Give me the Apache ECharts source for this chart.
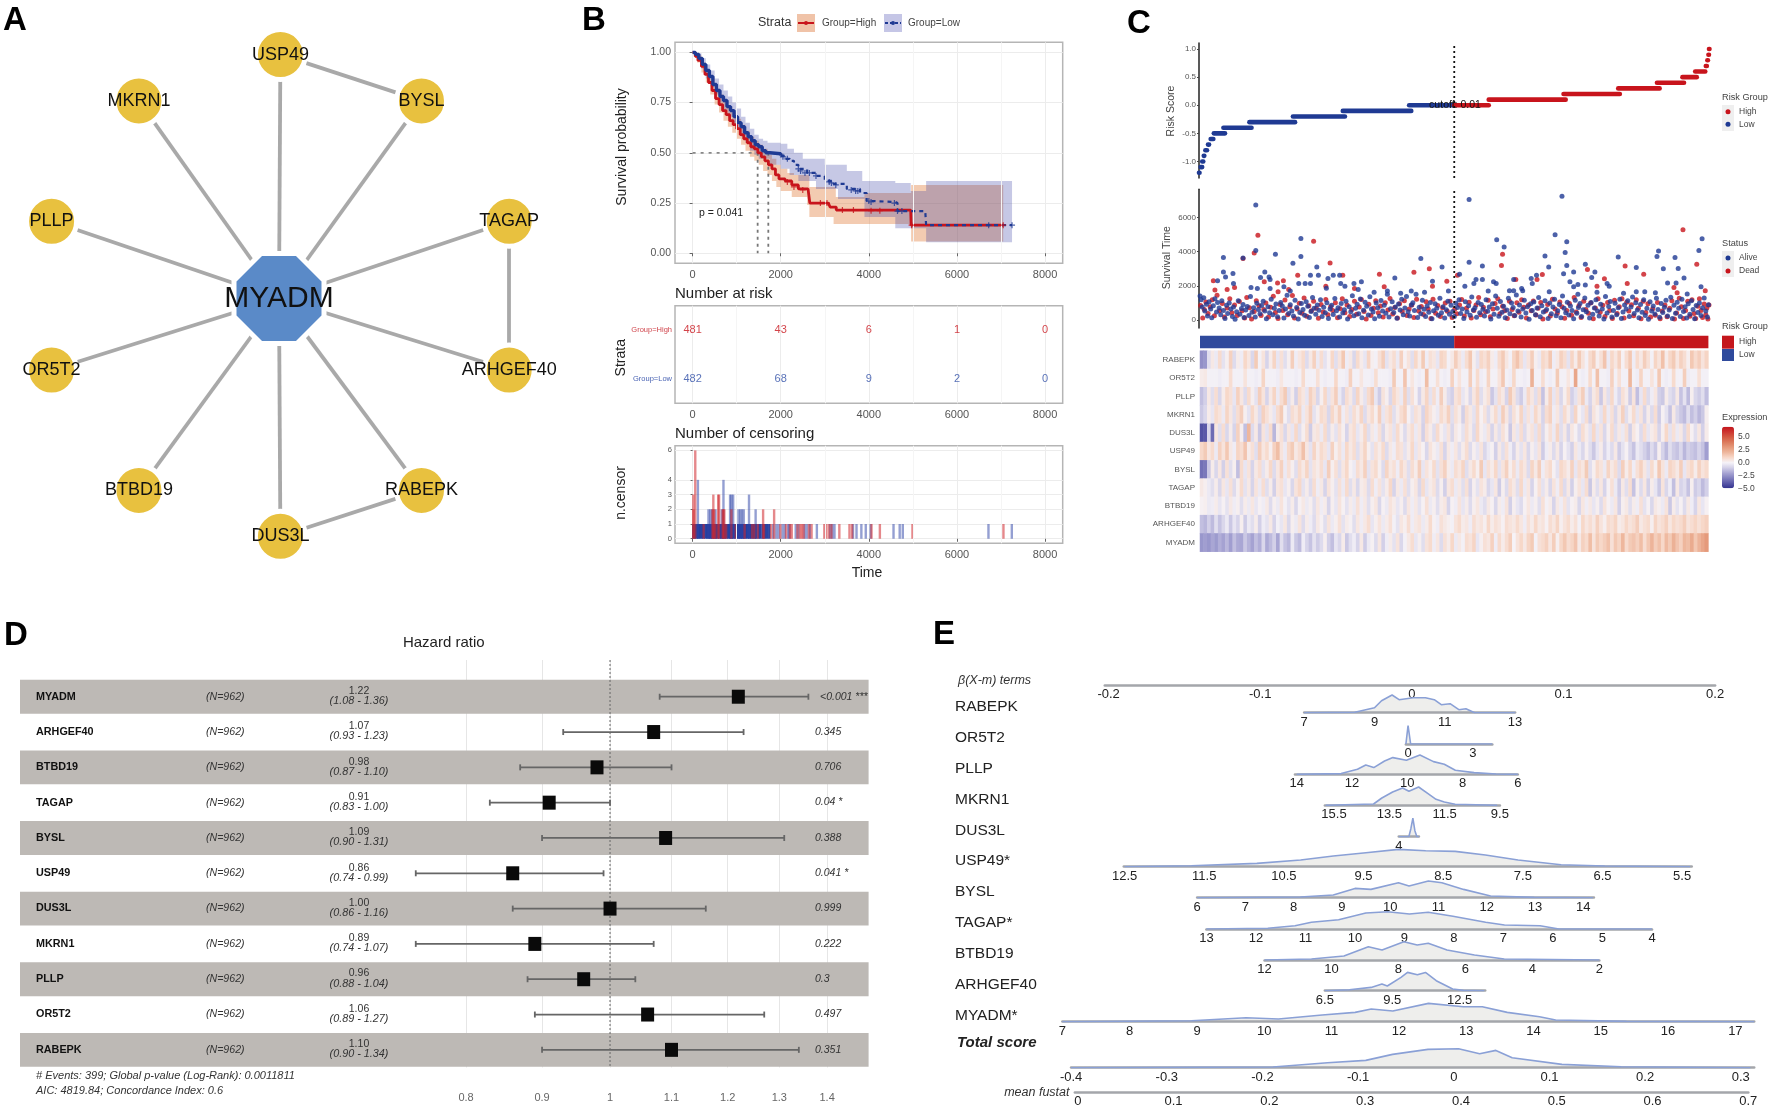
<!DOCTYPE html>
<html>
<head>
<meta charset="utf-8">
<style>html,body{margin:0;background:#fff}#chart{width:1772px;height:1108px}</style>
<script src="https://cdn.jsdelivr.net/npm/echarts@6/dist/echarts.min.js"></script>
</head>
<body>
<div id="chart"></div>
<script>
// ── A: interaction network ────────────────────────────────────────────────────
const nodeNames = ['MYADM','USP49','BYSL','MKRN1','PLLP','TAGAP','OR5T2','ARHGEF40','BTBD19','RABEPK','DUS3L'];
const nodeX = [279,280.4,421.5,138.9,51.6,509.2,51.6,509.2,138.9,421.5,280.4];
const nodeY = [298.5,54.6,100.9,100.9,221.3,221.3,370,370,490.4,490.4,536.3];
const edgeFrom = ['MYADM','MYADM','MYADM','MYADM','MYADM','MYADM','MYADM','MYADM','MYADM','MYADM','USP49','TAGAP','DUS3L'];
const edgeTo = ['USP49','BYSL','MKRN1','PLLP','TAGAP','OR5T2','ARHGEF40','BTBD19','RABEPK','DUS3L','BYSL','ARHGEF40','RABEPK'];

// ── B: survival curves ────────────────────────────────────────────────────────
const survHigh = [[0,1],[60,.98],[120,.96],[200,.93],[280,.89],[360,.85],[440,.81],[520,.77],[600,.74],[680,.71],[760,.69],[840,.66],[920,.64],[1000,.62],[1080,.59],[1160,.57],[1240,.55],[1320,.53],[1400,.52],[1480,.5],[1560,.48],[1640,.46],[1720,.44],[1800,.42],[1880,.39],[1960,.37],[2100,.36],[2250,.34],[2400,.32],[2620,.315],[2660,.25],[3080,.25],[3120,.23],[3260,.215],[4950,.212],[4960,.14],[7050,.14]];
const survLowEarly = [[0,1],[60,.99],[140,.97],[220,.94],[300,.91],[380,.88],[460,.84],[540,.81],[620,.78],[700,.76],[780,.73],[860,.71],[940,.68],[1020,.65],[1100,.63],[1180,.6],[1260,.58],[1340,.56],[1420,.54],[1500,.53],[1580,.51],[1660,.5],[1750,.495],[2000,.485]];
const survLowLate = [[2000,.485],[2100,.47],[2200,.46],[2300,.44],[2400,.42],[2600,.4],[2800,.385],[3000,.36],[3200,.345],[3500,.32],[3800,.3],[3950,.26],[4100,.255],[4600,.25],[4650,.21],[5280,.21],[5300,.14],[7250,.14]];
const bandHighUpper = [[0,1],[100,.985],[200,.95],[300,.91],[400,.87],[500,.82],[600,.79],[700,.76],[800,.73],[900,.7],[1000,.67],[1100,.64],[1200,.61],[1300,.58],[1400,.56],[1500,.54],[1600,.52],[1700,.49],[1800,.47],[1900,.44],[2000,.42],[2150,.4],[2300,.39],[2650,.33],[3250,.28],[3900,.3],[4960,.34],[7050,.34]];
const bandHighLower = [[0,1],[100,.95],[200,.9],[300,.85],[400,.79],[500,.74],[600,.7],[700,.66],[800,.63],[900,.6],[1000,.57],[1100,.54],[1200,.51],[1300,.48],[1400,.46],[1500,.44],[1600,.41],[1700,.39],[1800,.36],[1900,.33],[2000,.31],[2250,.28],[2600,.24],[2650,.18],[3150,.18],[3200,.145],[4950,.145],[4960,.058],[7050,.058]];
const bandLowUpper = [[0,1],[100,.995],[200,.97],[300,.94],[400,.91],[500,.87],[600,.84],[700,.81],[800,.78],[900,.75],[1000,.72],[1100,.68],[1200,.65],[1300,.62],[1400,.59],[1500,.57],[1600,.56],[1700,.55],[2000,.545],[2150,.52],[2300,.5],[2500,.47],[3000,.44],[3500,.41],[3850,.36],[4600,.35],[4950,.31],[5300,.36],[7250,.36]];
const bandLowLower = [[0,1],[100,.96],[200,.92],[300,.87],[400,.83],[500,.79],[600,.75],[700,.71],[800,.68],[900,.65],[1000,.62],[1100,.58],[1200,.55],[1300,.51],[1400,.49],[1500,.47],[1750,.44],[2000,.42],[2200,.39],[2400,.36],[2800,.32],[3300,.27],[3900,.18],[4600,.125],[5300,.055],[7250,.055]];
const censorMarksHigh = [[2150,.355],[2300,.33],[2500,.315],[2900,.25],[3050,.25],[3400,.215],[3650,.215],[4050,.212],[4250,.212],[4970,.14],[7050,.14]];
const censorMarksLow = [[2050,.48],[2150,.47],[2400,.42],[2450,.41],[2550,.4],[2650,.4],[2800,.385],[3100,.355],[3150,.35],[3250,.34],[3600,.315],[3700,.31],[3750,.31],[4000,.26],[4050,.255],[4580,.25],[4650,.21],[4750,.21],[6720,.14],[7250,.14]];
const medianLine = [[0,.5],[1718,.5]];
const medianHigh = [[1476,.5],[1476,0]];
const medianLow = [[1718,.5],[1718,0]];
const timeTicks = [0,2000,4000,6000,8000];
const timeMinor = [1000,3000,5000,7000];
const survTicks = [0,.25,.5,.75,1];
const riskHigh = [481,43,6,1,0];
const riskLow = [482,68,9,2,0];
const censorTicks = [0,1,2,3,4,6];
const censorCountHigh = [[15,3],[60,6],[20,2],[450,2],[470,3],[490,2],[580,3],[600,3],[680,2],[700,2],[720,2],[880,2],[1600,2],[1850,2],[250,1],[520,1],[760,1],[980,1],[1180,1],[1350,1],[1400,1],[1480,1],[1620,1],[1780,1],[1990,1],[2120,1],[2210,1],[2250,1],[2380,1],[2440,1],[2480,1],[2520,1],[2640,1],[2700,1],[2990,1],[3030,1],[3090,1],[3150,1],[3330,1],[3560,1],[3620,1],[4060,1],[4250,1],[4990,1],[7055,1]];
const censorCountLow = [[120,4],[360,2],[400,2],[440,2],[520,2],[660,2],[700,4],[850,3],[880,3],[920,3],[1040,2],[1080,2],[1120,2],[1160,2],[1280,3],[1430,2],[1830,1],[1900,1],[1950,1],[2040,1],[2090,1],[2170,1],[2200,1],[2340,1],[2400,1],[2540,1],[2590,1],[2660,1],[2820,1],[3120,1],[3170,1],[3220,1],[3640,1],[3720,1],[3830,1],[3930,1],[4040,1],[4560,1],[4700,1],[4770,1],[6715,1],[7245,1]];
const censorSingleLow = [[15,1],[50,1],[90,1],[130,1],[170,1],[210,1],[250,1],[290,1],[330,1],[370,1],[410,1],[450,1],[490,1],[530,1],[570,1],[610,1],[650,1],[690,1],[730,1],[770,1],[810,1],[850,1],[890,1],[930,1],[970,1],[1010,1],[1050,1],[1090,1],[1130,1],[1170,1],[1210,1],[1250,1],[1290,1],[1330,1],[1370,1],[1410,1],[1450,1],[1500,1],[1540,1],[1590,1],[1640,1],[1690,1],[1740,1]];

// ── C: risk score, survival time, expression ─────────────────────────────────
// each run of patients shares one rounded risk score: [first rank, last rank, score]
const riskRunsLow = [[0,1,-1.2],[3,6,-1.1],[6,8,-1],[9,10,-.9],[12,15,-.8],[17,19,-.7],[22,27,-.6],[28,49,-.5],[46,99,-.4],[95,181,-.3],[177,275,-.2],[271,400,-.1],[396,481,0]];
const riskRunsHigh = [[481,546,0],[546,691,.1],[687,793,.2],[790,868,.3],[863,914,.4],[911,938,.5],[935,954,.6],[955,957,.7],[958,959,.8],[960,961,.9],[961,962,1]];
const riskTicks = [-1,-.5,0,.5,1];
const survTimeTicks = [0,2000,4000,6000];
const aliveSparse = [[107,6730],[509,7040],[684,7240],[107,4070],[46,3650],[83,3630],[144,3840],[192,4770],[192,3720],[177,3320],[46,2810],[64,2720],[35,2290],[50,2520],[65,2130],[116,2480],[124,2810],[132,2520],[134,2370],[110,1840],[134,1840],[222,3100],[225,2620],[210,2620],[243,2430],[253,2620],[265,2620],[188,2130],[200,2130],[210,2130],[267,2130],[275,1980],[306,2230],[292,2130],[418,3590],[458,3100],[369,2460],[440,2270],[491,2680],[509,3380],[534,3160],[561,4690],[575,4270],[522,2370],[534,2370],[518,2130],[501,1980],[555,2230],[560,2130],[652,3740],[659,3100],[671,4990],[693,4580],[690,3940],[693,3180],[687,2700],[706,2810],[699,2230],[728,3260],[746,2810],[740,2480],[728,2040],[714,2080],[706,1940],[714,1510],[790,3690],[824,3070],[769,2130],[773,1980],[863,3720],[866,4040],[875,2990],[897,3650],[903,3010],[883,2170],[899,2170],[914,2460],[942,4070],[948,4750],[946,1940],[824,1650],[840,1650],[636,2620],[626,2430],[593,2370],[628,2130],[608,1840],[585,1710],[593,1710],[98,1900],[160,1950],[172,1700],[240,1850],[300,1780],[330,1620],[355,1700],[380,1560],[400,1690],[425,1620],[470,1700],[545,1700],[610,1710],[660,1650],[750,1620],[800,1560],[860,1600],[920,1520]];
const deadSparse = [[111,4950],[104,3920],[216,4600],[83,3590],[247,3340],[186,2620],[271,2620],[340,2680],[405,2790],[434,2990],[467,2270],[27,2290],[159,2290],[148,2170],[123,2230],[572,3840],[570,3180],[597,2370],[732,2950],[764,2410],[803,3160],[807,2130],[838,2680],[912,5280],[938,3260],[647,2660],[637,2370],[750,1980],[895,1900],[901,1590],[954,1710],[67,1900],[53,1790],[30,1750],[440,1980],[349,1940],[487,2620],[239,1980],[293,1840],[149,1650],[169,1790]];
const aliveDense = [[2,1400],[4,1180],[6,760],[9,1300],[11,520],[14,920],[16,240],[19,1060],[22,640],[24,130],[27,830],[30,1240],[33,470],[35,1020],[38,700],[41,310],[43,1130],[46,560],[49,90],[52,860],[54,380],[57,1000],[60,640],[63,200],[65,760],[68,50],[71,480],[74,1120],[77,330],[80,670],[83,910],[85,140],[88,590],[91,790],[94,260],[97,1380],[100,450],[103,720],[106,170],[109,980],[112,610],[115,360],[118,850],[121,1090],[124,530],[127,70],[130,770],[133,420],[136,1210],[139,300],[142,690],[145,940],[148,190],[151,560],[154,1030],[157,820],[160,110],[163,640],[166,1450],[169,380],[172,890],[175,520],[178,240],[181,1150],[184,730],[187,60],[190,440],[193,960],[196,620],[199,280],[202,1070],[205,800],[208,150],[211,500],[214,1320],[217,680],[220,340],[223,880],[226,570],[229,1180],[232,210],[235,750],[238,430],[241,1010],[244,90],[247,640],[250,860],[253,320],[256,1260],[259,540],[262,710],[265,180],[268,960],[271,410],[274,600],[277,1100],[280,60],[283,780],[286,480],[289,1420],[292,250],[295,690],[298,920],[301,360],[304,1230],[307,130],[310,570],[313,1040],[316,810],[319,290],[322,1360],[325,640],[328,470],[331,80],[334,990],[337,720],[340,220],[343,1140],[346,530],[349,860],[352,390],[355,1500],[358,170],[361,660],[364,1070],[367,440],[370,760],[373,100],[376,930],[379,590],[382,1220],[385,310],[388,700],[391,1370],[394,480],[397,240],[400,880],[403,1010],[406,560],[409,1510],[412,140],[415,740],[418,370],[421,1160],[424,630],[427,200],[430,820],[433,450],[436,1030],[439,70],[442,540],[445,950],[448,690],[451,280],[454,1270],[457,420],[460,780],[463,120],[466,600],[469,1090],[472,340],[475,860],[478,500],[481,210],[484,980],[487,730],[490,1180],[493,380],[496,650],[499,90],[502,1060],[505,470],[508,840],[511,280],[514,1340],[517,580],[520,720],[523,160],[526,1020],[529,420],[532,900],[535,630],[538,240],[541,1190],[544,510],[547,760],[550,60],[553,950],[556,340],[559,1400],[562,680],[565,220],[568,1080],[571,460],[574,810],[577,130],[580,590],[583,1270],[586,370],[589,990],[592,730],[595,270],[598,1460],[601,520],[604,880],[607,170],[610,640],[613,1150],[616,410],[619,770],[622,50],[625,950],[628,560],[631,1050],[634,300],[637,700],[640,1310],[643,190],[646,840],[649,470],[652,1120],[655,620],[658,90],[661,1000],[664,360],[667,760],[670,1220],[673,250],[676,540],[679,900],[682,130],[685,1410],[688,680],[691,430],[694,1040],[697,290],[700,820],[703,560],[706,70],[709,1160],[712,390],[715,730],[718,960],[721,210],[724,600],[727,1280],[730,480],[733,860],[736,110],[739,1030],[742,330],[745,700],[748,1190],[751,520],[754,240],[757,920],[760,640],[763,60],[766,1370],[769,410],[772,790],[775,1080],[778,170],[781,560],[784,980],[787,300],[790,720],[793,1220],[796,90],[799,470],[802,880],[805,640],[808,1120],[811,210],[814,760],[817,1340],[820,380],[823,1010],[826,580],[829,130],[832,900],[835,450],[838,1180],[841,270],[844,690],[847,50],[850,1060],[853,530],[856,820],[859,350],[862,1270],[865,620],[868,160],[871,960],[874,440],[877,740],[880,1150],[883,240],[886,580],[889,1330],[892,90],[895,860],[898,390],[901,1040],[904,680],[907,210],[910,1210],[913,500],[916,780],[919,120],[922,950],[925,330],[928,1120],[931,620],[934,70],[937,850],[940,440],[943,1000],[946,260],[949,720],[952,1280],[955,530],[958,170],[960,890]];
const deadDense = [[3,850],[7,110],[10,620],[13,1050],[17,380],[21,780],[25,1180],[29,250],[34,1440],[39,540],[44,960],[48,180],[53,700],[58,1240],[62,420],[67,880],[72,260],[76,1080],[81,540],[86,120],[90,1310],[95,720],[99,60],[104,490],[108,1120],[113,830],[117,270],[122,620],[126,1000],[131,170],[135,750],[140,1390],[144,440],[149,90],[153,900],[158,560],[162,1170],[167,310],[171,770],[176,1430],[180,120],[185,640],[189,980],[194,400],[198,1280],[203,220],[207,840],[212,540],[216,1090],[221,680],[225,100],[230,910],[234,470],[239,1200],[243,300],[248,780],[252,560],[257,1010],[261,130],[266,660],[270,1240],[275,420],[279,880],[284,210],[288,620],[293,1090],[297,340],[302,760],[306,1200],[311,500],[315,60],[320,920],[324,270],[329,680],[333,1130],[338,430],[342,820],[347,170],[351,1010],[356,590],[360,1260],[365,350],[369,730],[374,120],[378,950],[383,500],[387,1120],[392,260],[396,640],[401,880],[405,140],[410,1210],[414,530],[419,790],[423,320],[428,1060],[432,640],[437,90],[441,1220],[446,400],[450,850],[455,200],[459,720],[464,1000],[468,510],[473,1100],[477,150],[482,640],[486,370],[491,870],[495,1200],[500,240],[504,680],[509,1040],[513,110],[518,560],[522,880],[527,1320],[531,300],[536,740],[540,480],[545,1150],[549,190],[554,640],[558,970],[563,1240],[567,360],[572,800],[576,540],[581,90],[585,1090],[590,620],[594,250],[599,1010],[603,460],[608,1180],[612,740],[617,120],[621,880],[626,540],[630,1110],[635,290],[639,680],[644,1030],[648,60],[653,520],[657,900],[662,230],[666,1210],[671,640],[675,390],[680,1050],[684,780],[689,100],[693,560],[698,960],[702,280],[707,1310],[711,470],[716,830],[720,150],[725,1100],[729,620],[734,390],[738,990],[743,80],[747,700],[752,1240],[756,460],[761,860],[765,200],[770,1020],[774,560],[779,90],[783,1160],[788,380],[792,770],[797,1240],[801,120],[806,1040],[810,520],[815,890],[819,250],[824,1190],[828,690],[833,80],[837,1100],[842,440],[846,950],[851,170],[855,660],[860,280],[864,1030],[869,80],[873,520],[878,880],[882,190],[887,680],[891,1120],[896,60],[900,410],[905,1270],[909,780],[913,90],[917,560],[921,1100],[925,220],[929,1180],[933,380],[936,90],[940,810],[943,1240],[946,550],[949,140],[952,930],[955,300],[957,700],[959,60],[961,880]];

// expression in tenths, 140 columns ordered by risk rank
const heatGenes = ['RABEPK','OR5T2','PLLP','MKRN1','DUS3L','USP49','BYSL','TAGAP','BTBD19','ARHGEF40','MYADM'];
const heatRabepk = [-26,-24,-6,4,-3,9,-5,2,12,-7,
  3,-2,10,5,-8,14,-1,6,-9,3,
  11,-4,7,-6,2,13,-2,5,9,-7,
  4,12,-3,8,-5,1,10,-6,6,15,
  -2,4,-8,9,3,-4,11,2,-1,7,
  13,-5,4,8,-3,12,1,6,-6,10,
  3,14,-2,7,5,-4,11,9,-1,4,
  13,6,-3,8,15,2,-5,10,7,12,
  3,-2,9,14,5,-1,11,16,8,-4,
  6,13,2,-3,10,7,15,-2,4,12,
  8,-5,11,3,14,6,-1,9,13,2,
  7,16,-3,10,5,12,1,8,15,-2,
  9,4,13,7,-1,11,6,17,3,10,
  14,5,12,8,2,15,9,13,6,11];
const heatOr5t2 = [3,4,-1,-1,-1,-2,-1,-1,8,-1,
  -1,-1,6,-1,-1,-2,-1,11,-1,-1,
  -1,-2,5,-1,-1,-1,-2,-1,9,-1,
  -1,-1,7,-1,-2,-1,-1,10,-1,-1,
  -2,12,-1,-1,5,-1,-1,-2,8,-1,
  -1,-1,-2,14,-1,-1,16,-1,5,-1,
  -2,-1,18,-1,-1,7,-1,-2,-1,12,
  -1,6,-1,-1,13,-1,9,-2,-1,11,
  -1,-1,6,15,-1,-2,10,-1,-1,-2,
  -1,22,-1,-1,8,-1,-2,-1,14,-1,
  -1,5,-1,26,-1,-2,-1,9,-1,17,
  -1,-1,-2,12,-1,7,-1,-1,20,-1,
  -2,11,-1,-1,6,-1,15,-1,-2,-1,
  9,-1,-1,13,-2,-1,-1,7,-1,-1];
const heatPllp = [-14,-10,4,-6,8,-8,3,10,7,-4,
  12,5,-7,9,2,-5,13,6,-9,4,
  11,-3,8,14,-6,3,-10,9,5,-4,
  12,7,-8,2,10,-5,6,13,-3,-9,
  8,4,-7,11,3,-5,9,14,-4,-11,
  6,2,-8,10,5,-3,12,-6,7,1,
  -9,4,11,-5,8,-2,13,3,-7,-10,
  6,9,-4,2,-8,5,11,-6,3,7,
  -12,-5,8,4,-9,14,6,-7,-11,-3,
  10,5,-6,8,-13,3,12,-4,7,-8,
  2,9,-10,-5,6,13,-3,-9,4,8,
  -12,5,-6,10,-2,-8,7,3,-11,6,
  -14,-4,9,-7,-2,5,-10,-12,3,-6,
  -9,4,-13,-5,-15,2,-8,-11,-6,-14];
const heatMkrn1 = [-12,-8,3,-4,9,6,-3,11,5,-6,
  8,13,2,-5,10,4,-7,12,7,3,
  -4,9,14,1,-6,8,5,11,-3,6,
  13,-5,2,9,7,-8,10,4,12,-2,
  6,-5,8,3,11,-7,5,9,2,13,
  -4,6,10,-6,3,8,12,1,-5,7,
  4,-9,11,6,2,-3,9,5,12,-6,
  7,3,-10,8,4,-5,10,1,6,-7,
  3,9,-4,13,5,-8,7,2,11,-5,
  6,-3,10,4,-9,8,12,-2,5,-6,
  9,3,-7,11,1,-4,8,-10,6,2,
  -5,10,-3,7,-8,4,12,-6,2,9,
  -4,6,-9,3,-7,8,-11,1,-5,-13,
  4,-8,-12,-15,-6,-14,-10,-16,-12,2];
const heatDus3l = [-42,-40,-8,-35,5,-6,8,-8,3,-9,
  12,2,-14,20,-7,4,-12,6,-5,9,
  -16,3,7,-8,5,-4,10,-6,2,8,
  -11,4,6,-3,9,-7,3,-5,7,2,
  -9,5,8,-4,3,10,-6,4,-2,7,
  -8,3,6,-5,9,2,-7,4,8,-3,
  5,-10,7,3,-6,9,2,-4,6,-8,
  4,1,-5,8,3,-7,10,2,-3,6,
  -9,4,-6,7,2,-12,5,-4,8,-7,
  3,6,-5,9,-8,2,7,-3,11,-6,
  4,-9,5,1,-7,8,3,-5,10,-4,
  6,-8,2,9,-6,4,-3,7,-10,5,
  1,-7,8,-4,3,6,-9,2,10,-5,
  7,-3,4,-8,9,1,-6,5,-10,3];
const heatUsp49 = [10,14,5,9,-3,12,6,15,4,-2,
  11,8,16,3,7,-6,13,5,9,2,
  12,18,6,-3,10,14,4,8,17,5,
  -5,11,3,9,6,-4,12,2,7,-3,
  10,4,8,-6,5,11,2,-5,7,3,
  9,-7,4,-2,8,6,-5,3,10,-4,
  5,1,-8,6,2,-3,7,-9,4,-2,
  5,-6,3,8,-7,2,-4,6,-8,-3,
  1,-10,4,-6,7,-2,-9,3,-5,5,
  -8,2,-4,6,-11,-2,3,-7,4,-9,
  1,-5,-10,5,-3,-8,2,-6,-12,-4,
  3,-9,-2,-7,4,-11,-5,1,-8,-13,
  -3,-6,-10,-14,-7,-12,2,-9,-15,-6,
  -11,-13,-8,-16,-10,-12,-14,-9,-13,-22];
const heatBysl = [-34,-32,-12,3,-8,5,-10,7,-6,2,
  -14,9,-4,6,-9,4,8,-5,3,10,
  -7,5,12,-3,7,2,-6,9,4,11,
  -5,6,3,8,-4,13,2,7,-6,5,
  10,1,-3,8,4,12,-5,6,9,2,
  -7,11,4,7,-2,10,5,-6,8,3,
  13,-4,6,2,9,-5,7,12,3,-3,
  8,5,11,-6,4,9,2,14,-4,7,
  3,10,-5,6,12,2,8,-3,9,5,
  -7,11,4,13,-2,6,9,1,-5,10,
  7,3,12,-4,8,5,14,-6,2,9,
  6,-3,11,4,8,-7,13,3,10,-2,
  7,12,5,-5,9,2,15,6,-3,11,
  8,4,13,-4,7,10,3,12,6,9];
const heatTagap = [4,2,-3,-6,3,-8,5,-4,7,-7,
  2,9,-5,4,-9,6,-3,8,-6,3,
  -10,5,7,-4,2,-8,6,10,-5,3,
  -7,8,-2,4,-9,6,2,-5,7,-3,
  9,-6,4,-8,3,5,-7,8,-2,6,
  -5,3,10,-9,4,-3,7,-6,2,5,
  -8,9,-4,3,6,-7,2,-10,5,8,
  -3,4,-6,7,-9,2,-5,6,3,-8,
  -4,5,-11,2,-7,8,4,-6,10,-3,
  5,-9,1,7,-5,3,-8,6,-2,9,
  -7,4,-10,2,6,-4,8,-12,3,-6,
  5,-9,1,7,-3,-11,4,-6,8,-13,
  2,-7,5,-10,3,-4,-12,6,-8,-2,
  -14,4,-9,-6,-13,2,-11,-8,-15,-10];
const heatBtbd19 = [1,2,-3,-2,3,-4,1,-5,4,-2,
  2,-6,3,-3,5,-4,1,-2,4,-7,
  2,-3,6,-1,-5,3,-8,1,4,-3,
  2,-6,5,-2,3,-9,2,-4,6,1,
  -5,3,-3,7,-2,4,-6,2,5,-8,
  1,-3,6,3,-4,2,-7,5,-2,4,
  -5,1,7,-3,2,-6,3,5,-9,1,
  -2,6,-4,3,-7,2,5,-3,-6,4,
  1,-8,3,-2,6,-10,2,-4,-7,1,
  5,-3,2,-6,7,-1,3,-9,4,-2,
  6,-5,1,3,-8,5,-2,4,-4,2,
  -7,6,1,-3,5,-10,2,4,-6,3,
  -2,7,-5,1,-8,4,2,-3,6,-12,
  3,-5,1,-7,4,-2,-9,5,-4,1];
const heatArhgef40 = [-14,-16,-10,-15,-6,-13,-8,-3,-12,-4,
  -9,2,-11,-3,-6,3,-10,-2,-5,4,
  -9,-1,-4,5,-8,2,-3,6,-7,3,
  -2,-7,4,1,-6,6,-3,2,7,-5,
  3,1,-6,5,-2,4,8,-4,2,6,
  -3,3,7,-1,-5,5,2,8,-2,4,
  6,-3,3,9,1,-2,7,4,2,-1,
  6,9,3,5,-2,8,4,6,2,10,
  3,7,5,1,8,6,4,9,5,-2,
  7,3,10,4,6,1,8,5,11,2,
  6,9,3,7,-1,10,5,8,4,12,
  6,2,9,7,11,3,5,10,6,8,
  13,4,7,9,2,11,6,8,12,5,
  10,7,9,13,6,8,11,7,10,12];
const heatMyadm = [-24,-22,-24,-20,-23,-18,-21,-16,-22,-14,
  -19,-20,-12,-17,-21,-14,-18,-8,-19,-15,
  -10,-20,-6,-13,-16,-3,-12,-15,-2,-9,
  -13,-5,-11,-7,2,-10,-14,-4,-8,3,
  -12,-6,-2,-9,4,-11,-3,1,-7,5,
  -10,-2,3,-5,6,-8,-1,4,8,-4,
  2,-6,6,9,-2,5,-7,7,3,10,
  -3,4,-1,8,6,11,-4,2,7,5,
  12,-2,9,3,8,13,0,6,10,4,
  11,14,-1,7,9,12,5,13,2,10,
  15,8,11,16,4,12,9,18,6,14,
  10,13,17,7,15,11,20,9,14,16,
  12,18,8,15,21,13,17,10,19,14,
  22,16,12,20,18,24,15,21,26,30];
const heatRows = [heatRabepk,heatOr5t2,heatPllp,heatMkrn1,heatDus3l,heatUsp49,heatBysl,heatTagap,heatBtbd19,heatArhgef40,heatMyadm];

// ── D: forest plot ────────────────────────────────────────────────────────────
const hrGenes = ['MYADM','ARHGEF40','BTBD19','TAGAP','BYSL','USP49','DUS3L','MKRN1','PLLP','OR5T2','RABEPK'];
const hrValues = [1.22,1.07,.98,.91,1.09,.86,1,.89,.96,1.06,1.1];
const hrLower = [1.08,.93,.87,.83,.9,.74,.86,.74,.88,.89,.9];
const hrUpper = [1.36,1.23,1.1,1,1.31,.99,1.16,1.07,1.04,1.27,1.34];
const hrPvalues = ['<0.001 ***','0.345','0.706','0.04 *','0.388','0.041 *','0.999','0.222','0.3','0.497','0.351'];
const hrTicks = [.8,.9,1,1.1,1.2,1.3,1.4];

// ── E: nomogram densities, [axis value, height] ──────────────────────────────
const ridgeRabepk = [[7,0],[8.44,.4],[9,5],[9.2,12],[9.5,17.7],[9.7,13],[10.1,15],[10.45,15],[10.7,13],[10.9,8],[11.15,9],[11.4,3],[11.6,4],[11.85,0],[13,0]];
const ridgeOr5t2 = [[-.1,0],[-.03,0],[0,18.3],[.05,18],[.12,0],[3.9,0]];
const ridgePllp = [[14,0],[12.39,.7],[11.8,5],[11.5,9.3],[11.21,6.7],[10.82,13.3],[10.52,16.7],[10.03,14],[9.54,19.3],[9.05,12.7],[8.66,10],[8.26,4],[7.58,1.7],[6.79,.3],[6,0]];
const ridgeMkrn1 = [[15.8,0],[14.07,1.3],[13.77,7.3],[13.38,13.3],[13.02,17.3],[12.79,14],[12.44,18.3],[12.1,11.7],[11.81,6],[11.51,3.3],[11.12,1],[9.6,0]];
const ridgeDus3l = [[4,0],[5,0],[5.2,8],[5.4,18.5],[5.6,6],[5.8,0],[6,0]];
const ridgeUsp49 = [[12.5,0],[11.66,1],[10.84,3.3],[10.29,6.7],[9.88,10.7],[9.47,14],[9.06,17.3],[8.72,16],[8.35,15.3],[7.97,11.7],[7.56,6.7],[7.02,2],[6.47,.7],[5.4,0]];
const ridgeBysl = [[6,0],[8.14,.7],[8.82,2.7],[9.27,9.3],[9.6,8.3],[10.17,15],[10.39,11.7],[10.79,16.7],[11.07,15],[11.52,8.3],[12.08,1.7],[12.98,.3],[14.2,0]];
const ridgeTagap = [[13,0],[11.76,.7],[11.21,3.3],[10.88,6.7],[10.33,9.3],[9.78,16],[9.34,17.3],[8.9,15],[8.52,16.7],[8.02,12.7],[7.36,6.7],[6.98,4],[6.26,3.3],[5.88,0],[4,0]];
const ridgeBtbd19 = [[12,0],[10.6,1],[9.63,4],[8.9,13.3],[8.49,10],[7.84,18.3],[7.44,15],[7.11,16.7],[6.55,10],[5.73,5],[4.84,1],[2,0]];
const ridgeArhgef40 = [[6.5,0],[7.59,1],[8.56,3.3],[9.04,6.7],[9.28,4.7],[9.89,13.3],[10.18,18.3],[10.62,16],[10.98,18.3],[11.46,10],[12.19,1.7],[12.67,.3],[13.6,0]];
const ridgeMyadm = [[7,0],[8.92,1],[9.73,4],[10.21,2.7],[10.86,6.7],[11.35,9.3],[11.59,12.7],[11.91,10.7],[12.44,18.3],[12.96,15],[13.24,15],[13.61,9.3],[14.09,5],[14.33,1.7],[15.38,.3],[17.28,0]];
const ridgeTotal = [[-.4,0],[-.189,.7],[-.132,5],[-.092,7.3],[-.064,13.3],[-.027,18.3],[.005,19],[.027,14],[.044,17.3],[.061,10],[.113,3.3],[.175,1],[.31,0]];
const termTicks = [-.2,-.1,0,.1,.2];
const fustatTicks = [0,.1,.2,.3,.4,.5,.6,.7];

// ── Builders ──────────────────────────────────────────────────────────────────
const FONT = '"Liberation Sans", Arial, sans-serif';
const RED = '#c8141c', NAVY = '#1f3a93';
const grids = [], xAxes = [], yAxes = [], series = [], marks = [];

function panel(grid, xAxis, yAxis) {
  const i = grids.length;
  grids.push(grid);
  xAxes.push(Object.assign({ gridIndex: i }, xAxis));
  yAxes.push(Object.assign({ gridIndex: i }, yAxis));
  return i;
}

function text(str, x, y, o = {}) {
  const font = `${o.italic ? 'italic ' : ''}${o.bold ? 'bold ' : ''}${o.size || 10}px ${FONT}`;
  marks.push({ type: 'text', x, y, rotation: o.rot || 0, silent: true, z: 100, style: {
    text: str, font, fill: o.color || '#222',
    align: o.align || 'left', textAlign: o.align || 'left',
    verticalAlign: 'middle', textVerticalAlign: 'middle',
  } });
}
const box = (x, y, width, height, fill) => marks.push({ type: 'rect', silent: true, z: 99, shape: { x, y, width, height }, style: { fill } });
const dot = (cx, cy, r, fill) => marks.push({ type: 'circle', silent: true, z: 100, shape: { cx, cy, r }, style: { fill } });
const stroke = (x1, y1, x2, y2, color, lineWidth, lineDash) => marks.push({ type: 'line', silent: true, z: 100, shape: { x1, y1, x2, y2 }, style: { stroke: color, lineWidth, lineDash } });

const hidden = { show: false };
const PLUS = 'path://M4 0h2v4h4v2h-4v4h-2v-4h-4v-2h4z';

function lineOn(i, data, color, width, extra = {}) {
  series.push(Object.assign({ type: 'line', xAxisIndex: i, yAxisIndex: i, data, showSymbol: false, silent: true,
    lineStyle: { color, width } }, extra));
}

function stepped(pairs) {
  const out = [];
  pairs.forEach((p, k) => {
    if (k) out.push([p[0], pairs[k - 1][1]]);
    out.push(p);
  });
  return out;
}

function bandSeries(i, upper, lower, fill) {
  series.push({ type: 'custom', xAxisIndex: i, yAxisIndex: i, data: [[0, 0]], encode: { x: 0, y: 1 }, silent: true, z: 1,
    renderItem: (params, api) => ({ type: 'polygon', style: { fill },
      shape: { points: stepped(upper).concat(stepped(lower).reverse()).map(p => api.coord(p)) } }) });
}

// ── A ─────────────────────────────────────────────────────────────────────────
const netIdx = panel({ left: 0, top: 0, width: 590, height: 590 },
  { type: 'value', min: 0, max: 590, show: false }, { type: 'value', min: 0, max: 590, inverse: true, show: false });
series.push({ type: 'graph', layout: 'none', coordinateSystem: 'cartesian2d', xAxisIndex: netIdx, yAxisIndex: netIdx, silent: true,
  data: nodeNames.map((name, k) => ({ name, value: [nodeX[k], nodeY[k]],
    symbol: k ? 'circle' : 'path://M30 0H70L100 30V70L70 100H30L0 70V30Z',
    symbolSize: k ? 50 : 90,
    itemStyle: { color: k ? '#e8c13f' : '#5a8ac8', borderColor: '#fff', borderWidth: 5 },
    label: { show: true, position: 'inside', color: '#111', fontSize: k ? 18 : 30 } })),
  links: edgeFrom.map((source, k) => ({ source, target: edgeTo[k] })),
  lineStyle: { color: '#a9a9a9', width: 3.8, opacity: 1, curveness: 0 } });

// ── B ─────────────────────────────────────────────────────────────────────────
const bwFrame = { show: true, borderColor: '#b5b5b5', borderWidth: 1.5 };
const bwSplit = { show: true, lineStyle: { color: '#ececec', width: 1 } };
const timeAxis = { type: 'value', min: -400, max: 8400,
  axisLine: hidden, axisTick: { customValues: timeTicks, length: 3, lineStyle: { color: '#666' } },
  axisLabel: { customValues: timeTicks, fontSize: 11, color: '#555', margin: 6, formatter: v => String(v) }, splitLine: bwSplit };
const minorX = { silent: true, symbol: 'none', label: hidden, animation: false,
  lineStyle: { color: '#f5f5f5', width: 1, type: 'solid' }, data: timeMinor.map(xAxis => ({ xAxis })) };

const survIdx = panel(Object.assign({ left: 675, top: 42.3, width: 387.7, height: 221 }, bwFrame), timeAxis,
  { type: 'value', min: -.05, max: 1.05, axisLine: hidden,
    axisTick: { customValues: survTicks, length: 3, lineStyle: { color: '#666' } },
    axisLabel: { customValues: survTicks, fontSize: 10.5, color: '#555', margin: 4, formatter: v => v.toFixed(2) }, splitLine: bwSplit });
bandSeries(survIdx, bandHighUpper, bandHighLower, 'rgba(222,110,40,.36)');
bandSeries(survIdx, bandLowUpper, bandLowLower, 'rgba(52,58,160,.28)');
lineOn(survIdx, medianLine, '#888', 1.8, { lineStyle: { color: '#888', width: 1.8, type: [3, 5] }, markLine: minorX });
lineOn(survIdx, medianHigh, '#888', 1.8, { lineStyle: { color: '#777', width: 1.8, type: [3, 4] } });
lineOn(survIdx, medianLow, '#888', 1.8, { lineStyle: { color: '#777', width: 1.8, type: [3, 4] } });
lineOn(survIdx, survHigh, RED, 2.8, { step: 'end', z: 3 });
lineOn(survIdx, survLowEarly, NAVY, 3.4, { step: 'end', z: 4 });
lineOn(survIdx, survLowLate, NAVY, 2.2, { step: 'end', z: 4, lineStyle: { color: NAVY, width: 2.2, type: [4, 4] } });
[[censorMarksHigh, RED], [censorMarksLow, NAVY]].forEach(([data, color]) =>
  series.push({ type: 'scatter', xAxisIndex: survIdx, yAxisIndex: survIdx, data, symbol: PLUS, symbolSize: 6, silent: true, z: 5, itemStyle: { color } }));

text('Strata', 758, 23, { size: 12.5, color: '#333' });
box(797, 14, 18, 18, '#f0c3a8'); stroke(798, 23, 814, 23, RED, 2); dot(806, 23, 2, RED);
text('Group=High', 822, 23, { size: 10, color: '#444' });
box(884, 14, 18, 18, '#c5c6e6'); stroke(885, 23, 901, 23, NAVY, 2, [3, 2]); dot(893, 23, 2, NAVY);
text('Group=Low', 908, 23, { size: 10, color: '#444' });
text('Survival probability', 622, 147, { size: 14, rot: Math.PI / 2, align: 'center', color: '#222' });
text('p = 0.041', 699, 213, { size: 10.5, color: '#222' });

const strataCats = ['Group=Low', 'Group=High'];
const strataIdx = panel(Object.assign({ left: 675, top: 305.7, width: 387.7, height: 97.6 }, bwFrame), timeAxis,
  { type: 'category', data: strataCats, axisLine: hidden, axisTick: { length: 2, alignWithLabel: true },
    axisLabel: { fontSize: 7.5, margin: 3, color: v => v === 'Group=High' ? '#d0454c' : '#4a64b4' }, splitLine: { show: false } });
[[riskHigh, 'Group=High', RED], [riskLow, 'Group=Low', '#2e4ea6']].forEach(([vals, cat, color]) =>
  series.push({ type: 'scatter', xAxisIndex: strataIdx, yAxisIndex: strataIdx, symbolSize: 1, silent: true, itemStyle: { color: 'transparent' },
    data: vals.map((n, k) => [timeTicks[k], cat, n]),
    label: { show: true, position: 'inside', color, fontSize: 11, formatter: p => p.value[2] } }));
lineOn(strataIdx, [], '#000', 1, { markLine: minorX });
text('Number at risk', 675, 294, { size: 15, color: '#222' });
text('Strata', 621, 357.7, { size: 14, rot: Math.PI / 2, align: 'center' });

const censorIdx = panel(Object.assign({ left: 675, top: 445.7, width: 387.7, height: 97.6 }, bwFrame), timeAxis,
  { type: 'value', min: -.31, max: 6.32, axisLine: hidden,
    axisTick: { customValues: censorTicks, length: 2, lineStyle: { color: '#666' } },
    axisLabel: { customValues: censorTicks, fontSize: 7.5, color: '#555', margin: 3 }, splitLine: bwSplit });
lineOn(censorIdx, [], '#000', 1, { markLine: minorX });
[[censorSingleLow, '#1f3a9e', .95], [censorCountLow, '#2a3fa5', .5], [censorCountHigh, '#d0262c', .55]].forEach(([data, color, opacity]) =>
  series.push({ type: 'bar', xAxisIndex: censorIdx, yAxisIndex: censorIdx, data, barWidth: 2.4, barGap: '-100%', silent: true, itemStyle: { color, opacity } }));
text('Number of censoring', 675, 434, { size: 15, color: '#222' });
text('n.censor', 621, 493, { size: 14, rot: Math.PI / 2, align: 'center' });
text('Time', 867, 573, { size: 14, align: 'center' });

// ── C ─────────────────────────────────────────────────────────────────────────
const rankAxis = { type: 'value', min: 0, max: 962, show: false };
const riskYAxis = (min, max, ticks, fmt) => ({ type: 'value', min, max,
  axisLine: { show: true, onZero: false, lineStyle: { color: '#222', width: 1.5 } },
  axisTick: { customValues: ticks, length: 2, lineStyle: { color: '#444' } },
  axisLabel: { customValues: ticks, fontSize: 8, color: '#555', margin: 3, formatter: fmt },
  splitLine: hidden });

const scoreIdx = panel({ left: 1199, top: 43, width: 510.5, height: 135 }, rankAxis,
  riskYAxis(-1.294, 1.108, riskTicks, v => v.toFixed(1)));
[[riskRunsLow, NAVY], [riskRunsHigh, RED]].forEach(([data, color]) =>
  series.push({ type: 'custom', xAxisIndex: scoreIdx, yAxisIndex: scoreIdx, data, encode: { x: [0, 1], y: 2 }, silent: true,
    renderItem: (params, api) => {
      const a = api.coord([api.value(0), api.value(2)]), b = api.coord([api.value(1), api.value(2)]);
      return { type: 'line', shape: { x1: a[0], y1: a[1], x2: b[0], y2: b[1] }, style: { stroke: color, lineWidth: 4.6, lineCap: 'round' } };
    } }));
lineOn(scoreIdx, [[481, -1.294], [481, 1.108]], '#111', 1.8, { z: 6, lineStyle: { color: '#111', width: 1.8, type: [2, 3] } });
text('cutoff: 0.01', 1455, 105.3, { size: 10.5, align: 'center', color: '#111' });
text('Risk Score', 1170.7, 111, { size: 10.5, rot: Math.PI / 2, align: 'center', color: '#444' });

const timeIdx = panel({ left: 1199, top: 189.3, width: 510.5, height: 138.7 }, rankAxis,
  riskYAxis(-468, 7643, survTimeTicks, v => String(v)));
[[deadSparse, RED], [deadDense, RED], [aliveSparse, NAVY], [aliveDense, NAVY]].forEach(([data, color]) =>
  series.push({ type: 'scatter', xAxisIndex: timeIdx, yAxisIndex: timeIdx, data, symbolSize: 5, silent: true, itemStyle: { color } }));
lineOn(timeIdx, [[481, -468], [481, 7643]], '#111', 1.8, { z: 6, lineStyle: { color: '#111', width: 1.8, type: [2, 3] } });
text('Survival Time', 1167, 257.7, { size: 10.5, rot: Math.PI / 2, align: 'center', color: '#444' });

const annotIdx = panel({ left: 1200, top: 335.7, width: 508.4, height: 12.6 }, rankAxis,
  { type: 'category', data: ['Risk Group'], show: false });
[[481, '#2f4a9c'], [481, '#c4161c']].forEach(([n, color]) =>
  series.push({ type: 'bar', xAxisIndex: annotIdx, yAxisIndex: annotIdx, stack: 'risk', barWidth: '100%', data: [n], silent: true, itemStyle: { color } }));

const heatColumns = heatRabepk.map((_, k) => k);
const heatIdx = panel({ left: 1200, top: 350.7, width: 508.4, height: 201 },
  { type: 'category', data: heatColumns, show: false },
  { type: 'category', data: heatGenes, inverse: true, axisLine: hidden, axisTick: hidden,
    axisLabel: { fontSize: 8, color: '#555', margin: 5 }, splitLine: hidden });
series.push({ type: 'heatmap', xAxisIndex: heatIdx, yAxisIndex: heatIdx, silent: true,
  data: heatRows.flatMap((row, r) => row.map((v, c) => [c, r, v])) });
const heatSeriesIndex = series.length - 1;

text('Risk Group', 1722, 97, { size: 9.2, color: '#444' });
box(1722, 105, 12, 13, '#efefef'); dot(1728, 111.7, 2.5, RED); text('High', 1739, 111.7, { size: 8.5, color: '#444' });
box(1722, 118, 12, 13, '#efefef'); dot(1728, 124.3, 2.5, NAVY); text('Low', 1739, 124.3, { size: 8.5, color: '#444' });
text('Status', 1722, 243, { size: 9.2, color: '#444' });
box(1722, 251, 12, 13, '#efefef'); dot(1728, 258, 2.5, NAVY); text('Alive', 1739, 258, { size: 8.5, color: '#444' });
box(1722, 264, 12, 13, '#efefef'); dot(1728, 271, 2.5, RED); text('Dead', 1739, 271, { size: 8.5, color: '#444' });
text('Risk Group', 1722, 326, { size: 9.2, color: '#444' });
box(1722, 335.7, 12, 13, '#c4161c'); text('High', 1739, 342, { size: 8.5, color: '#444' });
box(1722, 349, 12, 12, '#2f4a9c'); text('Low', 1739, 355, { size: 8.5, color: '#444' });
text('Expression', 1722, 417, { size: 9.2, color: '#444' });
[['5.0', 436.7], ['2.5', 449.3], ['0.0', 462.3], ['\u22122.5', 476], ['\u22125.0', 489]].forEach(([t, y]) =>
  text(t, 1738, y, { size: 8.5, color: '#444' }));

// ── D ─────────────────────────────────────────────────────────────────────────
const ROW_H = 35.3, ROWS_TOP = 679;
const rowY = k => ROWS_TOP + ROW_H * (k + .5);
const hrMin = Math.log(.4007), hrMax = Math.log(1.493), rowTop = -.54;
const hrTickPos = hrTicks.map(Math.log);
const forestIdx = panel({ left: 20, top: 660, width: 848.6, height: 407.5 },
  { type: 'value', min: hrMin, max: hrMax, axisLine: hidden, axisTick: { show: false, customValues: hrTickPos },
    axisLabel: { customValues: hrTickPos, fontSize: 11, color: '#666', margin: 25,
      formatter: v => String(Math.round(Math.exp(v) * 10) / 10) },
    splitLine: { show: true, lineStyle: { color: '#e6e6e6', width: 1 } } },
  { type: 'value', min: rowTop, max: 11, inverse: true, show: false });
series.push({ type: 'custom', xAxisIndex: forestIdx, yAxisIndex: forestIdx, silent: true, z: 1,
  data: hrGenes.map((_, k) => [hrMin, k]).filter(d => d[1] % 2 === 0), encode: { x: 0, y: 1 },
  renderItem: (params, api) => {
    const a = api.coord([hrMin, api.value(1) + .02]), b = api.coord([hrMax, api.value(1) + .98]);
    return { type: 'rect', shape: { x: a[0], y: a[1], width: b[0] - a[0], height: b[1] - a[1] }, style: { fill: '#bdb9b5' } };
  } });
lineOn(forestIdx, [[0, rowTop], [0, 11]], '#666', 1, { z: 2, lineStyle: { color: '#666', width: 1, type: [2, 2] } });
series.push({ type: 'custom', xAxisIndex: forestIdx, yAxisIndex: forestIdx, silent: true, z: 3,
  data: hrGenes.map((_, k) => [Math.log(hrLower[k]), Math.log(hrUpper[k]), Math.log(hrValues[k]), k + .5]),
  encode: { x: [0, 1, 2], y: 3 },
  renderItem: (params, api) => {
    const y = api.value(3);
    const a = api.coord([api.value(0), y]), b = api.coord([api.value(1), y]), c = api.coord([api.value(2), y]);
    const s = { stroke: '#666', lineWidth: 1.8 };
    return { type: 'group', children: [
      { type: 'line', shape: { x1: a[0], y1: a[1], x2: b[0], y2: b[1] }, style: s },
      { type: 'line', shape: { x1: a[0], y1: a[1] - 3, x2: a[0], y2: a[1] + 3 }, style: s },
      { type: 'line', shape: { x1: b[0], y1: b[1] - 3, x2: b[0], y2: b[1] + 3 }, style: s },
      { type: 'rect', shape: { x: c[0] - 6.5, y: c[1] - 7, width: 13, height: 14 }, style: { fill: '#0a0a0a' } },
    ] };
  } });
hrGenes.forEach((g, k) => {
  const y = rowY(k);
  text(g, 36, y, { size: 10.8, bold: true, color: '#111' });
  text('(N=962)', 206, y, { size: 10.6, italic: true, color: '#333' });
  text(hrValues[k].toFixed(2), 359, y - 5.5, { size: 10.5, align: 'center', color: '#333' });
  text(`(${hrLower[k].toFixed(2)} - ${hrUpper[k].toFixed(2)})`, 359, y + 4.5, { size: 10.8, italic: true, align: 'center', color: '#333' });
  text(hrPvalues[k], k ? 815 : 820, y, { size: 10.5, italic: true, color: '#333' });
});
text('Hazard ratio', 443.8, 642.7, { size: 15, align: 'center', color: '#222' });
text('# Events: 399; Global p-value (Log-Rank): 0.0011811', 36, 1075.7, { size: 11, italic: true, color: '#333' });
text('AIC: 4819.84; Concordance Index: 0.6', 36, 1090.7, { size: 11, italic: true, color: '#333' });

// ── E ─────────────────────────────────────────────────────────────────────────
const ridgeAxes = [
  { name: 'RABEPK', density: ridgeRabepk, y: 712.7, left: 1304.2, right: 1515.1, min: 7, max: 13, ticks: [7,9,11,13] },
  { name: 'OR5T2', density: ridgeOr5t2, y: 744, left: 1405.9, right: 1492.3, min: -.1, max: 3.9, ticks: [0,3] },
  { name: 'PLLP', density: ridgePllp, y: 774.3, left: 1295, right: 1517.8, min: 6, max: 14.06, inverse: true, ticks: [14,12,10,8,6] },
  { name: 'MKRN1', density: ridgeMkrn1, y: 805.3, left: 1324.9, right: 1499.9, min: 9.5, max: 15.83, inverse: true, ticks: [15.5,13.5,11.5,9.5] },
  { name: 'DUS3L', density: ridgeDus3l, y: 836.7, left: 1398.8, right: 1418.9, min: 4, max: 6, ticks: [4] },
  { name: 'USP49*', density: ridgeUsp49, y: 866.7, left: 1123.8, right: 1691.7, min: 5.38, max: 12.51, inverse: true, ticks: [12.5,11.5,10.5,9.5,8.5,7.5,6.5,5.5] },
  { name: 'BYSL', density: ridgeBysl, y: 897.7, left: 1197.2, right: 1593.9, min: 6, max: 14.22, ticks: [6,7,8,9,10,11,12,13,14] },
  { name: 'TAGAP*', density: ridgeTagap, y: 929, left: 1206.4, right: 1652, min: 4, max: 13, inverse: true, ticks: [13,12,11,10,9,8,7,6,5,4] },
  { name: 'BTBD19', density: ridgeBtbd19, y: 960, left: 1264.6, right: 1599.3, min: 2, max: 12, inverse: true, ticks: [12,10,8,6,4,2] },
  { name: 'ARHGEF40', density: ridgeArhgef40, y: 990.7, left: 1324.9, right: 1485.2, min: 6.5, max: 13.64, ticks: [6.5,9.5,12.5] },
  { name: 'MYADM*', density: ridgeMyadm, y: 1021.7, left: 1062.4, right: 1754.2, min: 7, max: 17.28, ticks: [7,8,9,10,11,12,13,14,15,16,17] },
  { name: 'Total score', density: ridgeTotal, y: 1067.7, left: 1071.1, right: 1754.2, min: -.4, max: .314, ticks: [-.4,-.3,-.2,-.1,0,.1,.2,.3] },
  { density: [], y: 685.3, left: 1104.8, right: 1715.1, min: -.2025, max: .2, ticks: termTicks },
  { density: [], y: 1092.3, left: 1074.9, right: 1748.3, min: -.003, max: .7, ticks: fustatTicks },
];
const RIDGE_H = 24;
ridgeAxes.forEach(r => {
  const i = panel({ left: r.left, top: r.y - RIDGE_H, width: r.right - r.left, height: RIDGE_H },
    { type: 'value', min: r.min, max: r.max, inverse: !!r.inverse, z: 3,
      axisLine: { show: true, onZero: false, lineStyle: { color: '#a4a6ab', width: 2.6 } }, axisTick: hidden,
      axisLabel: { customValues: r.ticks, fontSize: 13, color: '#222', margin: 3, formatter: v => String(v) },
      splitLine: hidden },
    { type: 'value', min: 0, max: RIDGE_H, show: false });
  lineOn(i, r.density, '#8aa0d6', 1.6, { areaStyle: { color: '#eeeeec', opacity: 1 } });
});
[['RABEPK',707],['OR5T2',738],['PLLP',768.3],['MKRN1',799.3],['DUS3L',830.3],['USP49*',860.7],['BYSL',892],['TAGAP*',922.7],['BTBD19',953.7],['ARHGEF40',984.7],['MYADM*',1015.3]].forEach(([t, y]) =>
  text(t, 955, y, { size: 15.5, color: '#222' }));
text('Total score', 957, 1043.3, { size: 15, bold: true, italic: true, color: '#222' });
text('\u03b2(X-m) terms', 958, 681, { size: 12.5, italic: true, color: '#333' });
text('mean fustat', 1069.5, 1093, { size: 12.5, italic: true, align: 'right', color: '#333' });

// panel letters
[['A', 3, 21], ['B', 582, 21], ['C', 1127, 24], ['D', 4, 636], ['E', 933, 635]].forEach(([t, x, y]) =>
  text(t, x, y, { size: 33, bold: true, color: '#000' }));

const chart = echarts.init(document.getElementById('chart'), null, { renderer: 'canvas' });
chart.setOption({
  animation: false,
  backgroundColor: '#fff',
  textStyle: { fontFamily: FONT },
  tooltip: { show: false },
  grid: grids,
  xAxis: xAxes,
  yAxis: yAxes,
  visualMap: [{ type: 'continuous', seriesIndex: heatSeriesIndex, min: -50, max: 70, left: 1722, top: 426.7,
    itemWidth: 12, itemHeight: 61.6, calculable: false, hoverLink: false, text: null, showLabel: false, padding: 0,
    inRange: { color: ['#33338f','#5a58a8','#8280bf','#a9a6d4','#d3d0e8','#f6f3f8','#f7d8c9','#eeb79d','#e59a7b','#dc7a5c','#d45a43','#cc3530','#c4141c'] } }],
  series,
  graphic: { elements: marks },
});
</script>
</body>
</html>
